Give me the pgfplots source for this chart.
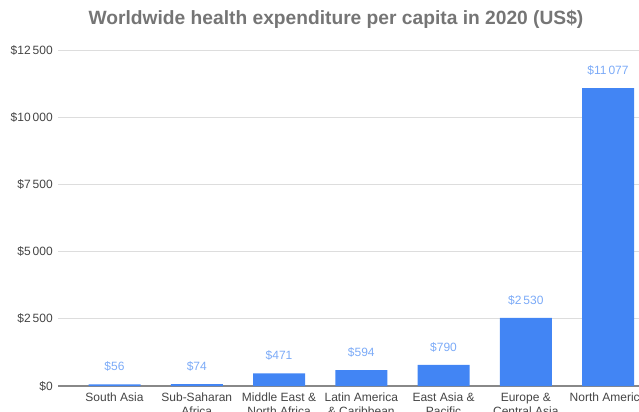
\documentclass[border=0pt]{standalone}
\usepackage{pgfplots}
\pgfplotsset{compat=1.18}
\usepackage{fontspec}
\setmainfont{Liberation Sans}
\definecolor{barblue}{HTML}{4285F4}
\definecolor{valblue}{HTML}{7BAAF7}
\definecolor{titlegray}{HTML}{757575}
\definecolor{tickgray}{HTML}{444444}
\definecolor{gridgray}{HTML}{DDDDDD}
\definecolor{zerogray}{HTML}{888888}
\begin{document}
\begin{tikzpicture}
\useasboundingbox (0,0) rectangle (479.25pt,308.25pt);
\clip (0,0) rectangle (479.25pt,308.25pt);
\node[font=\fontsize{14.4}{16}\selectfont\bfseries, text=titlegray, inner sep=0pt] at (252pt,293.5pt) {Worldwide health expenditure per capita in 2020 (US\$)};
\begin{axis}[
  at={(43.5pt,18.75pt)}, anchor=south west,
  scale only axis,
  width=454.9pt, height=252pt,
  xmin=-0.687, xmax=6.687,
  ymin=0, ymax=12500,
  scaled y ticks=false,
  axis line style={draw=none},
  major tick length=0pt,
  ymajorgrids,
  grid style={gridgray, line width=0.6pt},
  ytick={2500,5000,7500,10000,12500},
  yticklabels={\$2\,500,\$5\,000,\$7\,500,\$10\,000,\$12\,500},
  extra y ticks={0},
  extra y tick labels={\$0},
  extra y tick style={grid style={zerogray, line width=0.9pt}},
  yticklabel style={font=\fontsize{9}{10.5}\selectfont, text=tickgray, inner sep=0pt, xshift=-3.75pt, anchor=east},
  xtick={0,1,2,3,4,5,6},
  xticklabels={South Asia, Sub-Saharan\\Africa, Middle East \&\\North Africa, Latin America\\\& Caribbean, East Asia \&\\Pacific, Europe \&\\Central Asia, North America},
  xticklabel style={font=\fontsize{9}{10.5}\selectfont, text=tickgray, inner sep=0pt, yshift=-5.25pt, align=center, anchor=north},
  point meta=explicit symbolic,
  nodes near coords,
  every node near coord/.append style={font=\fontsize{9}{10.5}\selectfont, text=valblue, anchor=base, inner sep=0pt, yshift=10.3pt},
]
\addplot[ybar, bar width=39pt, fill=barblue, draw=none] coordinates {
  (0,56) [\$56]
  (1,74) [\$74]
  (2,471) [\$471]
  (3,594) [\$594]
  (4,790) [\$790]
  (5,2530) [\$2\,530]
  (6,11077) [\$11\,077]
};
\end{axis}
\end{tikzpicture}
\end{document}
